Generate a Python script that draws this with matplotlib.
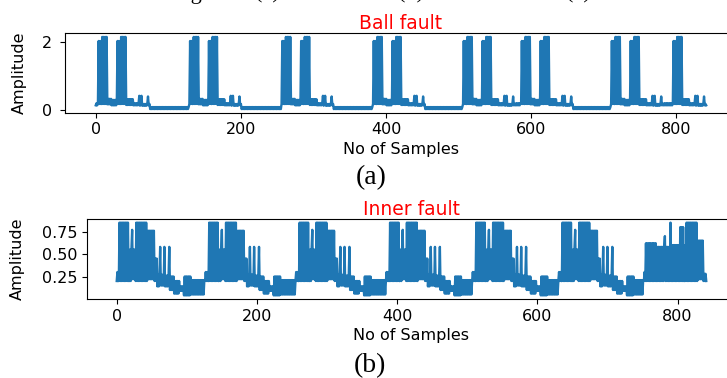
import numpy as np
import matplotlib
matplotlib.use("Agg")
import matplotlib.pyplot as plt

# ---- Ball fault pieces: (number of samples, low, high) ----
ball_burst = [(5, 0.18, 2.03), (8, 0.18, 2.15)]
ball_gap = [(6, 0.17, 0.33), (7, 0.14, 0.30)]
ball_tail = [(10, 0.15, 0.32), (8, 0.14, 0.20), (1, 0.42, 0.42), (2, 0.13, 0.18),
             (1, 0.42, 0.42), (8, 0.13, 0.18), (1, 0.40, 0.40), (2, 0.14, 0.18)]
ball_base = (0.14, 0.20)
ball_quiet = (0.03, 0.09)
ball_layout = [("base", 3), ("pair", 0), ("quiet", 54), ("pair", 0), ("quiet", 55),
               ("pair", 0), ("quiet", 54), ("pair", 0), ("quiet", 52), ("pair", 0),
               ("base", 8), ("pair", 0), ("quiet", 52), ("pair", 0), ("base", 13),
               ("burst", 0), ("tail", 0), ("base", 1)]

# ---- Inner fault pieces ----
inner_head = [(3, 0.20, 0.30), (15, 0.20, 0.85), (4, 0.20, 0.55), (1, 0.77, 0.77),
              (4, 0.22, 0.55), (17, 0.20, 0.85), (10, 0.22, 0.76), (4, 0.20, 0.45),
              (4, 0.14, 0.27), (1, 0.58, 0.58), (5, 0.15, 0.27), (1, 0.58, 0.58),
              (6, 0.14, 0.26), (1, 0.58, 0.58), (6, 0.10, 0.25)]
inner_quiet = [(8, 0.06, 0.20), (6, 0.09, 0.14), (10, 0.04, 0.25)]
inner_quiet_rest = (0.05, 0.21)
inner_rise = [(2, 0.20, 0.30)]
inner_cycle_len = [128, 129, 129, 123, 123, 122]
inner_last = [(16, 0.20, 0.62), (12, 0.20, 0.58), (1, 0.70, 0.70), (7, 0.20, 0.58),
              (1, 0.85, 0.85), (12, 0.20, 0.60), (7, 0.20, 0.80), (2, 0.20, 0.60),
              (17, 0.20, 0.85), (8, 0.22, 0.65), (5, 0.20, 0.28)]

xticks = [0, 200, 400, 600, 800]


def runs_to_signal(runs):
    out = []
    for n, lo, hi in runs:
        out.extend(([lo, hi] * n)[:n])
    return np.array(out)


runs = []
for kind, n in ball_layout:
    if kind == "pair":
        runs += ball_burst + ball_gap + ball_burst + ball_tail
    elif kind == "burst":
        runs += ball_burst
    elif kind == "tail":
        runs += ball_tail
    elif kind == "base":
        runs.append((n, *ball_base))
    else:
        runs.append((n, *ball_quiet))
ball = runs_to_signal(runs)

runs = []
for L in inner_cycle_len:
    fixed = inner_head + inner_quiet + inner_rise
    runs += inner_head + inner_quiet
    runs.append((L - sum(r[0] for r in fixed), *inner_quiet_rest))
    runs += inner_rise
runs += inner_last
inner = runs_to_signal(runs)

fig = plt.figure(figsize=(7.27, 3.78), dpi=100)
ax1 = fig.add_axes([0.0897, 0.7019, 0.9237, 0.210])
ax2 = fig.add_axes([0.120, 0.209, 0.892, 0.2116])

fs = 11.5
for ax, y, title, yt in [(ax1, ball, "Ball fault", [0, 2]),
                         (ax2, inner, "Inner fault", [0.25, 0.50, 0.75])]:
    ax.plot(np.arange(len(y)), y, color="#1f77b4", lw=1.7)
    ax.set_title(title, color="red", fontsize=13.5, pad=1.5)
    ax.set_xlabel("No of Samples", fontsize=fs, labelpad=3)
    ax.set_ylabel("Amplitude", fontsize=fs)
    ax.set_xticks(xticks)
    ax.set_yticks(yt)
    ax.tick_params(labelsize=fs)

ax1.tick_params(axis="y", pad=6)
ax1.yaxis.set_label_coords(-0.0569, 0.5)
ax2.yaxis.set_label_coords(-0.0959, 0.5)

serif = "Liberation Serif"
fig.text(370.7 / 727, 1 - 184.3 / 378, "(a)", family=serif, fontsize=20, ha="center", va="baseline")
fig.text(370.3 / 727, 1 - 372.3 / 378, "(b)", family=serif, fontsize=20, ha="center", va="baseline")
# caption line of the previous figure, cut by the top edge
ytop = 1 + 1.5 / 378
fig.text(202 / 727, ytop, "Fig", family=serif, fontsize=16, ha="right", va="baseline")
for xc, s in [(267.5, "(a)"), (411.5, "(b)"), (578.5, "(c)")]:
    fig.text(xc / 727, ytop, s, family=serif, fontsize=16, ha="center", va="baseline")

fig.savefig("out.png", dpi=100)
